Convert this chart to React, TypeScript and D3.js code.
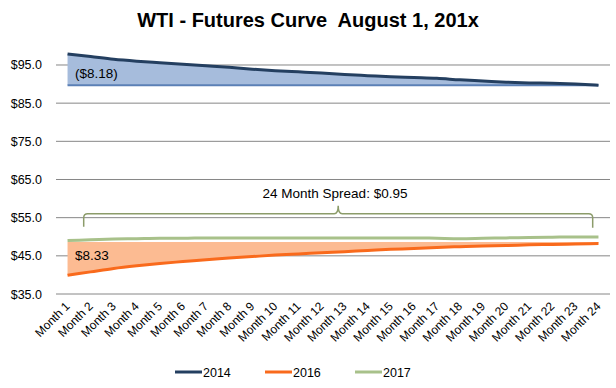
import React from "react";
import * as d3 from "d3";

const months = d3.range(1, 25).map(i => `Month ${i}`);
const wti2014 = [97.88, 97.2, 96.5, 96.0, 95.6, 95.2, 94.8, 94.4, 93.9, 93.5, 93.2, 92.9, 92.5, 92.2, 91.9, 91.7, 91.5, 91.1, 90.8, 90.5, 90.3, 90.2, 90.0, 89.7];
const wti2016 = [39.9, 40.8, 41.7, 42.4, 43.0, 43.5, 44.0, 44.4, 44.8, 45.2, 45.5, 45.8, 46.1, 46.4, 46.7, 46.9, 47.2, 47.4, 47.6, 47.7, 47.9, 48.0, 48.1, 48.23];
const wti2017 = [49.0, 49.2, 49.4, 49.5, 49.6, 49.6, 49.7, 49.7, 49.7, 49.7, 49.7, 49.7, 49.7, 49.7, 49.7, 49.7, 49.6, 49.5, 49.6, 49.7, 49.8, 49.9, 49.95, 49.95];
const yTicks = [35, 45, 55, 65, 75, 85, 95];
const seriesNames = ["2014", "2016", "2017"];
const seriesColors = ["#243f60", "#f96a1c", "#a8c18a"];

const W = 616;
const H = 388;
const font = "Arial, 'Liberation Sans', sans-serif";

export default function App() {
  const x = d3.scaleBand().domain(months).range([56, 610]);
  const y = d3.scaleLinear().domain([35, 100]).range([294, 45.9]);
  const cx = (i: number) => (x(months[i]) as number) + x.bandwidth() / 2;

  const line = d3.line<number>().x((_, i) => cx(i)).y(d => y(d)).curve(d3.curveMonotoneX);
  const area = (base: number) =>
    d3.area<number>().x((_, i) => cx(i)).y0(y(base)).y1(d => y(d)).curve(d3.curveMonotoneX);

  const last14 = wti2014[wti2014.length - 1];
  const last16 = wti2016[wti2016.length - 1];

  // brace annotation spanning the 2017 curve
  const bx0 = cx(0) + x.bandwidth() * 0.7;
  const bx1 = cx(23) - x.bandwidth() * 0.25;
  const bmid = (bx0 + bx1) / 2;
  const by = y(55) - 4;
  const bend = by + 13;
  const brace = `M${bx0},${bend} L${bx0},${by + 4} Q${bx0},${by} ${bx0 + 4},${by} L${bmid - 4},${by} Q${bmid},${by} ${bmid},${by - 8} Q${bmid},${by} ${bmid + 4},${by} L${bx1 - 4},${by} Q${bx1},${by} ${bx1},${by + 4} L${bx1},${bend + 1}`;

  return (
    <svg width={W} height={H} style={{ position: "absolute", left: 0, top: 0, display: "block", background: "#fff" }} fontFamily={font}>
      <text x={308} y={27} textAnchor="middle" fontSize={20} fontWeight="bold" fill="#000" style={{ whiteSpace: "pre" }}>
        {"WTI - Futures Curve  August 1, 201x"}
      </text>

      {yTicks.map(t => (
        <g key={t}>
          <line x1={56} x2={610} y1={y(t)} y2={y(t)} stroke="#868686" strokeWidth={1} />
          <text x={42} y={y(t) + 4.5} textAnchor="end" fontSize={12.5} fill="#000">{`$${t.toFixed(1)}`}</text>
        </g>
      ))}

      {/* 2014 spread area */}
      <path d={area(last14)(wti2014) || ""} fill="#a6bcdc" />
      <line x1={cx(0)} x2={cx(23)} y1={y(last14)} y2={y(last14)} stroke="#5b80b6" strokeWidth={2} />

      {/* 2016 spread area */}
      <path d={area(last16 + 0.4)(wti2016) || ""} fill="#fcbb92" />

      <path d={line(wti2017) || ""} fill="none" stroke={seriesColors[2]} strokeWidth={3} />
      <path d={line(wti2016) || ""} fill="none" stroke={seriesColors[1]} strokeWidth={3} />
      <path d={line(wti2014) || ""} fill="none" stroke={seriesColors[0]} strokeWidth={3} />

      <text x={75} y={78} fontSize={13.5} fill="#000">($8.18)</text>
      <text x={75} y={260} fontSize={13.5} fill="#000">$8.33</text>

      <path d={brace} fill="none" stroke="#8c9c6a" strokeWidth={1.5} />
      <text x={335} y={198} textAnchor="middle" fontSize={13.5} fill="#000">24 Month Spread: $0.95</text>

      {months.map((m, i) => (
        <text key={m} transform={`translate(${cx(i) + 3},${307}) rotate(-45)`} textAnchor="end" fontSize={12} fill="#000">
          {m}
        </text>
      ))}

      {seriesNames.map((s, i) => (
        <g key={s} transform={`translate(${175 + i * 90},${372})`}>
          <line x1={0} x2={27} y1={0} y2={0} stroke={seriesColors[i]} strokeWidth={3} />
          <text x={28} y={4.5} fontSize={12.5} fill="#000">{s}</text>
        </g>
      ))}
    </svg>
  );
}
